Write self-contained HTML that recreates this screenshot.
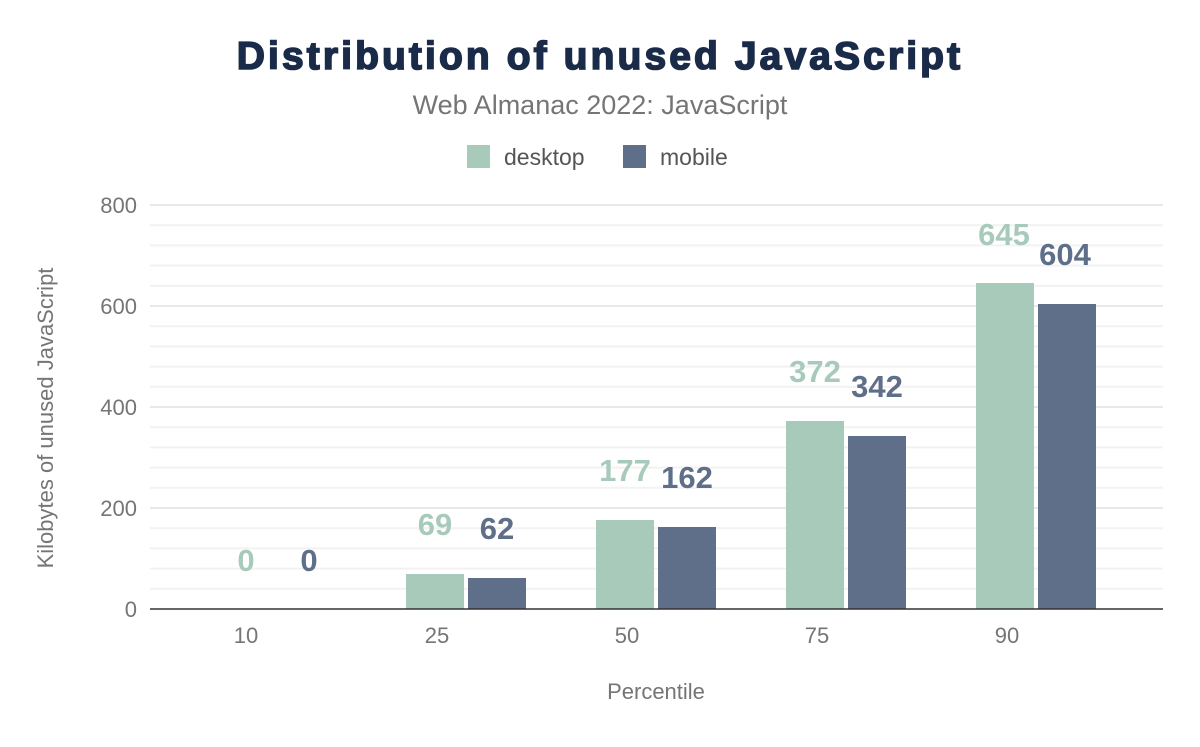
<!DOCTYPE html><html><head><style>body{margin:0;background:#fff}</style></head><body>
<svg width="1200" height="742" xmlns="http://www.w3.org/2000/svg" font-family="Liberation Sans, sans-serif">
<rect width="1200" height="742" fill="#fff"/>
<text x="600" y="69" text-anchor="middle" font-size="39" font-weight="900" fill="#1a2b49" stroke="#1a2b49" stroke-width="1.6" letter-spacing="3.1">Distribution of unused JavaScript</text>
<text x="600" y="114" text-anchor="middle" font-size="27" fill="#757575">Web Almanac 2022: JavaScript</text>
<rect x="467" y="145" width="23" height="23" fill="#a8cabb"/><text x="504" y="165" font-size="23" fill="#555">desktop</text>
<rect x="623" y="145" width="23" height="23" fill="#5f6f89"/><text x="660" y="165" font-size="23" fill="#555">mobile</text>
<g stroke="#f2f2f2" stroke-width="2">
<line x1="150" x2="1163" y1="225.2" y2="225.2"/><line x1="150" x2="1163" y1="245.4" y2="245.4"/><line x1="150" x2="1163" y1="265.6" y2="265.6"/><line x1="150" x2="1163" y1="285.8" y2="285.8"/>
<line x1="150" x2="1163" y1="326.2" y2="326.2"/><line x1="150" x2="1163" y1="346.4" y2="346.4"/><line x1="150" x2="1163" y1="366.6" y2="366.6"/><line x1="150" x2="1163" y1="386.8" y2="386.8"/>
<line x1="150" x2="1163" y1="427.2" y2="427.2"/><line x1="150" x2="1163" y1="447.4" y2="447.4"/><line x1="150" x2="1163" y1="467.6" y2="467.6"/><line x1="150" x2="1163" y1="487.8" y2="487.8"/>
<line x1="150" x2="1163" y1="528.2" y2="528.2"/><line x1="150" x2="1163" y1="548.4" y2="548.4"/><line x1="150" x2="1163" y1="568.6" y2="568.6"/><line x1="150" x2="1163" y1="588.8" y2="588.8"/>
</g>
<g stroke="#e8e8e8" stroke-width="2">
<line x1="150" x2="1163" y1="205" y2="205"/><line x1="150" x2="1163" y1="306" y2="306"/><line x1="150" x2="1163" y1="407" y2="407"/><line x1="150" x2="1163" y1="508" y2="508"/>
</g>
<g font-size="22" fill="#757575" text-anchor="end">
<text x="137" y="213">800</text><text x="137" y="314">600</text><text x="137" y="415">400</text><text x="137" y="516">200</text><text x="137" y="617">0</text>
</g>
<text transform="translate(53,418) rotate(-90)" text-anchor="middle" font-size="22" fill="#757575">Kilobytes of unused JavaScript</text>
<g fill="#a8cabb">
<rect x="406" y="574" width="58" height="35"/><rect x="596" y="520" width="58" height="89"/><rect x="786" y="421" width="58" height="188"/><rect x="976" y="283" width="58" height="326"/>
</g>
<g fill="#5f6f89">
<rect x="468" y="578" width="58" height="31"/><rect x="658" y="527" width="58" height="82"/><rect x="848" y="436" width="58" height="173"/><rect x="1038" y="304" width="58" height="305"/>
</g>
<line x1="150" x2="1163" y1="609" y2="609" stroke="#333" stroke-width="1.5"/>
<g font-size="31" font-weight="bold" text-anchor="middle">
<g fill="#a8cabb"><text x="246" y="571">0</text><text x="435" y="535">69</text><text x="625" y="481">177</text><text x="815" y="382">372</text><text x="1004" y="245">645</text></g>
<g fill="#5f6f89"><text x="309" y="571">0</text><text x="497" y="539">62</text><text x="687" y="488">162</text><text x="877" y="397">342</text><text x="1065" y="265">604</text></g>
</g>
<g font-size="22" fill="#757575" text-anchor="middle">
<text x="246" y="643">10</text><text x="437" y="643">25</text><text x="627" y="643">50</text><text x="817" y="643">75</text><text x="1007" y="643">90</text>
</g>
<text x="656" y="699" text-anchor="middle" font-size="22" fill="#757575">Percentile</text>
</svg>
</body></html>
